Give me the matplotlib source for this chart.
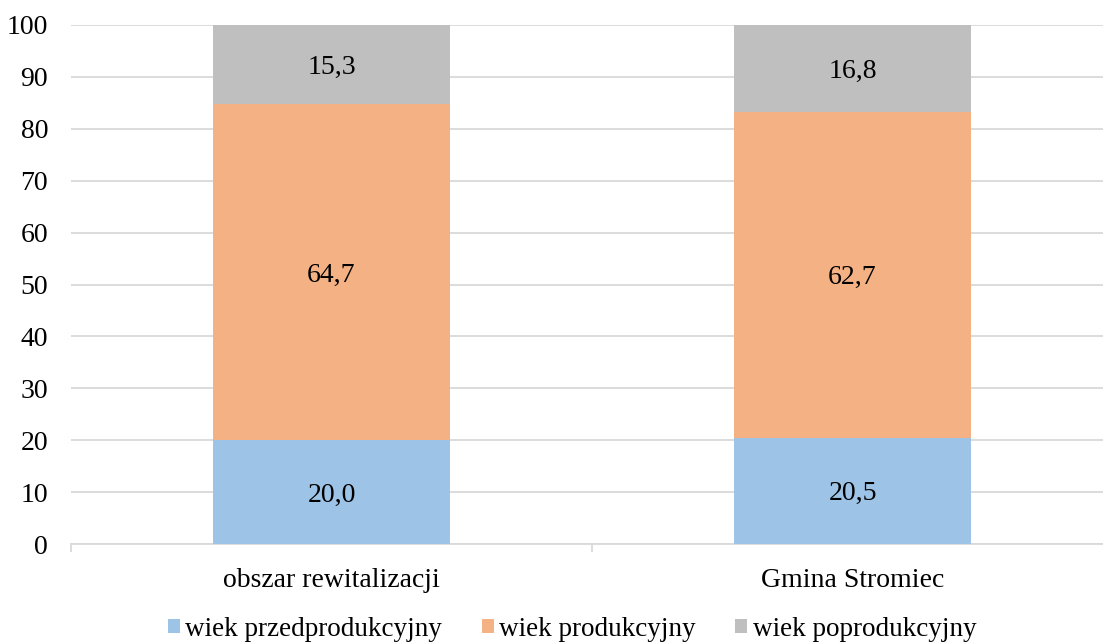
import matplotlib
matplotlib.use("Agg")
import matplotlib.pyplot as plt
import numpy as np

categories = ["obszar rewitalizacji", "Gmina Stromiec"]
series_names = ["wiek przedprodukcyjny", "wiek produkcyjny", "wiek poprodukcyjny"]
pre = [20.0, 20.5]
prod = [64.7, 62.7]
post = [15.3, 16.8]
colors = ["#9DC3E6", "#F4B183", "#BFBFBF"]

plt.rcParams['font.family'] = ['Liberation Serif', 'DejaVu Serif']
W, H = 1103, 643
fig = plt.figure(figsize=(W/100, H/100), dpi=100)
left, right = 71, 1113
top, bottom = 25, 544
ax = fig.add_axes([left/W, 1-bottom/H, (right-left)/W, (bottom-top)/H])

FS = 20
x = np.arange(len(categories))
bw = 0.455
bottoms = np.zeros(len(categories))
for vals, name, c in zip([pre, prod, post], series_names, colors):
    vals = np.array(vals)
    ax.bar(x, vals, bw, bottom=bottoms, color=c, label=name, zorder=3)
    for xi, v, b in zip(x, vals, bottoms):
        ax.text(xi, b + v/2, f"{v:.1f}".replace(".", ","), ha="center",
                va="center_baseline", fontsize=FS, zorder=4)
    bottoms += vals

ax.set_xlim(-0.5, 1.5)
ax.set_ylim(0, 100)
ax.set_yticks(range(0, 101, 10))
ax.yaxis.grid(True, color="#D9D9D9", linewidth=1.3, zorder=0)
ax.set_axisbelow(True)
for s in ["top", "right", "left"]:
    ax.spines[s].set_visible(False)
ax.spines["bottom"].set_color("#D9D9D9")
ax.spines["bottom"].set_linewidth(1.3)
ax.tick_params(axis="y", length=0, labelsize=FS, pad=16.5)
ax.set_xticks(x)
ax.set_xticklabels(categories)
ax.set_xticks([-0.5, 0.5, 1.5], minor=True)
ax.tick_params(axis="x", which="major", length=0, labelsize=FS, pad=17)
ax.tick_params(axis="x", which="minor", length=6, color="#D9D9D9", width=1.3)

handles, labels = ax.get_legend_handles_labels()
fig.legend(handles, labels, loc="center", bbox_to_anchor=(572/W, 1-629/H), ncol=3,
           frameon=False, fontsize=19.5, handlelength=0.45, handleheight=0.45,
           handletextpad=0.2, columnspacing=1.45, borderaxespad=0)

fig.savefig("out.png", dpi=100)
